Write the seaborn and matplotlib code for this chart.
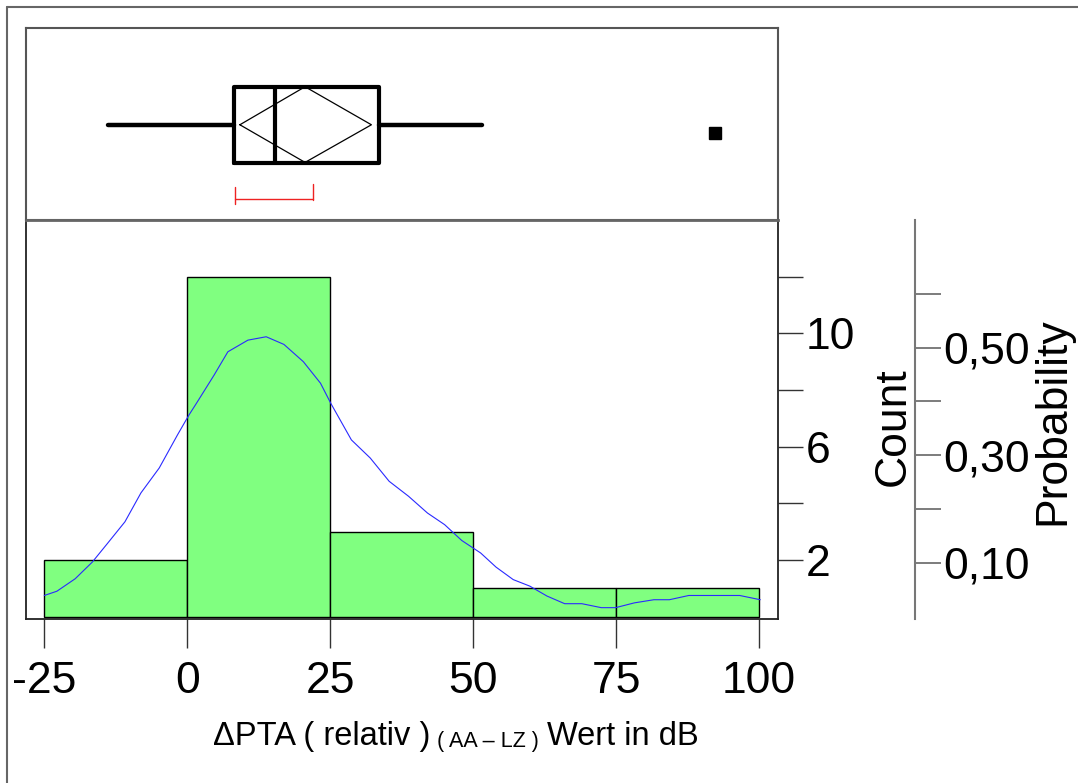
import numpy as np
import pandas as pd
import matplotlib
matplotlib.use('Agg')
import matplotlib.pyplot as plt
import seaborn as sns
from matplotlib.lines import Line2D
from matplotlib.ticker import FixedLocator

# ---------------- data ----------------
bin_edges = [-25, 0, 25, 50, 75, 100]
bin_counts = [2, 12, 3, 1, 1]

curve_x = [-25.0, -22.8, -19.6, -16.6, -14.1, -10.9, -8.1, -4.9, -1.7, 0.3, 1.6, 4.7,
           7.1, 10.6, 13.8, 16.9, 20.3, 23.3, 25.1, 28.7, 32.0, 35.3, 38.7, 42.0,
           45.0, 48.0, 51.3, 54.0, 57.0, 59.9, 62.9, 66.0, 69.0, 72.4, 74.9, 78.2,
           81.6, 84.3, 87.7, 96.6, 100.2]
curve_y = [0.75, 0.90, 1.34, 1.93, 2.55, 3.35, 4.37, 5.25, 6.42, 7.12, 7.53, 8.53,
           9.35, 9.76, 9.88, 9.61, 9.00, 8.24, 7.53, 6.24, 5.60, 4.78, 4.25, 3.66,
           3.25, 2.69, 2.25, 1.75, 1.31, 1.08, 0.73, 0.46, 0.46, 0.32, 0.32, 0.49,
           0.60, 0.60, 0.75, 0.75, 0.60]

# box plot summary
whisker_lo, q1, median, q3, whisker_hi = -13.8, 8.1, 15.4, 33.6, 51.6
mean_val, mean_ci_lo, mean_ci_hi = 20.6, 9.2, 32.2
outliers = [92.3]
shortest_half = [8.4, 21.9]

x_ticks = [-25, 0, 25, 50, 75, 100]
count_ticks = [2, 6, 10]
count_minor = [4, 8, 12]
prob_ticks = [0.10, 0.30, 0.50]
prob_minor = [0.20, 0.40, 0.60]
n_total = sum(bin_counts)

xlabel_main = "\u0394PTA ( relativ )"
xlabel_sub = "( AA \u2013 LZ )"
xlabel_end = "Wert in dB"

# ---------------- style ----------------
sns.set_theme(style='white')
plt.rcParams['font.family'] = ['Liberation Sans', 'DejaVu Sans']
plt.rcParams['text.color'] = 'black'
plt.rcParams['xtick.labelcolor'] = 'black'
plt.rcParams['ytick.labelcolor'] = 'black'

W, H = 1078, 783
fig = plt.figure(figsize=(W / 100, H / 100), dpi=100)
fig.patch.set_facecolor('white')


def rect(x0, y0, x1, y1):
    return [x0 / W, 1 - y1 / H, (x1 - x0) / W, (y1 - y0) / H]


ax_box = fig.add_axes(rect(26, 28, 778, 220))
ax_h = fig.add_axes(rect(26, 220, 778, 619))
ax_p = fig.add_axes(rect(880, 220, 915, 619))

XLIM = (-28.2, 103.3)
YLIM = (-0.08, 14.0)

# ---------------- histogram ----------------
centers = [(bin_edges[i] + bin_edges[i + 1]) / 2 for i in range(len(bin_counts))]
sns.histplot(x=centers, weights=bin_counts, bins=bin_edges, ax=ax_h,
             color='#80ff80', edgecolor='black', linewidth=1.0, alpha=1.0)
sns.lineplot(x=curve_x, y=curve_y, ax=ax_h, color='#2a2aff', linewidth=0.8)

ax_h.set_xlim(*XLIM)
ax_h.set_ylim(*YLIM)
ax_h.set_facecolor('none')
ax_h.set_xlabel('')
ax_h.set_ylabel('')
ax_h.set_xticks(x_ticks)
ax_h.set_xticklabels([str(t) for t in x_ticks], fontsize=32, color='black')
ax_h.tick_params(axis='x', direction='out', length=21, width=1, color='#333333',
                 pad=9, bottom=True, labelcolor='black')
ax_h.yaxis.tick_right()
ax_h.set_yticks(count_ticks)
ax_h.set_yticklabels([str(t) for t in count_ticks], fontsize=32, color='black')
ax_h.yaxis.set_minor_locator(FixedLocator(count_minor))
ax_h.tick_params(axis='y', which='both', direction='out', length=18, width=1,
                 color='#333333', pad=2, right=True, left=False, labelcolor='black')
for s in ['left', 'bottom', 'right']:
    ax_h.spines[s].set_visible(True)
    ax_h.spines[s].set_color('#222222')
    ax_h.spines[s].set_linewidth(1.3)
ax_h.spines['top'].set_color('#666666')
ax_h.spines['top'].set_linewidth(2)

# ---------------- probability axis ----------------
ax_p.set_facecolor('none')
ax_p.set_ylim(YLIM[0] / n_total, YLIM[1] / n_total)
ax_p.set_xticks([])
for s in ['left', 'top', 'bottom']:
    ax_p.spines[s].set_visible(False)
ax_p.spines['right'].set_visible(True)
ax_p.spines['right'].set_color('#777777')
ax_p.spines['right'].set_linewidth(1.5)
ax_p.yaxis.tick_right()
ax_p.set_yticks(prob_ticks)
ax_p.set_yticklabels([f"{t:.2f}".replace('.', ',') for t in prob_ticks], fontsize=32,
                     color='black')
ax_p.yaxis.set_minor_locator(FixedLocator(prob_minor))
ax_p.tick_params(axis='y', which='both', direction='out', length=19, width=1.2,
                 color='#666666', pad=1, right=True, left=False, labelcolor='black')

# ---------------- box plot panel ----------------
ax_box.set_xlim(*XLIM)
ax_box.set_ylim(0, 1)
ax_box.set_xticks([])
ax_box.set_yticks([])
ax_box.set_facecolor('white')
for s in ax_box.spines.values():
    s.set_visible(True)
    s.set_color('#555555')
    s.set_linewidth(1.5)

stats = [{'whislo': whisker_lo, 'q1': q1, 'med': median, 'q3': q3,
          'whishi': whisker_hi, 'fliers': []}]
bx_kw = dict(positions=[0.496], widths=[0.394], showfliers=False, showcaps=False,
             boxprops=dict(color='black', linewidth=3),
             whiskerprops=dict(color='black', linewidth=3.2),
             medianprops=dict(color='black', linewidth=3))
try:
    ax_box.bxp(stats, orientation='horizontal', **bx_kw)
except TypeError:
    ax_box.bxp(stats, vert=False, **bx_kw)
ax_box.set_ylim(0, 1)
ax_box.set_yticks([])

cy, top, bot = 0.496, 0.694, 0.30
ax_box.plot([mean_ci_lo, mean_val, mean_ci_hi, mean_val, mean_ci_lo],
            [cy, top, cy, bot, cy], color='black', linewidth=0.9)
ax_box.plot(outliers, [0.455] * len(outliers), marker='s', linestyle='none',
            color='black', markersize=8)

ax_box.plot(shortest_half, [0.11, 0.11], color='#ee2222', linewidth=1)
ax_box.plot([shortest_half[0]] * 2, [0.085, 0.17], color='#ee2222', linewidth=1)
ax_box.plot([shortest_half[1]] * 2, [0.105, 0.19], color='#ee2222', linewidth=1)
ax_box.set_xlim(*XLIM)

# ---------------- labels ----------------
fig.text(893 / W, 1 - 427 / H, 'Count', rotation=90, ha='center', va='center',
         fontsize=32, color='black')
fig.text(1053 / W, 1 - 421 / H, 'Probability', rotation=90, ha='center', va='center',
         fontsize=32, color='black')
fig.text(213 / W, 1 - 745 / H, xlabel_main, ha='left', va='baseline', fontsize=23.5,
         color='black')
fig.text(437 / W, 1 - 747 / H, xlabel_sub, ha='left', va='baseline', fontsize=15.5,
         color='black')
fig.text(547 / W, 1 - 745 / H, xlabel_end, ha='left', va='baseline', fontsize=23.5,
         color='black')

# figure border lines
fig.add_artist(Line2D([7 / W, 7 / W], [0, 1 - 7 / H], color='#666666', linewidth=1.5))
fig.add_artist(Line2D([7 / W, 1], [1 - 7 / H, 1 - 7 / H], color='#666666', linewidth=1.5))

fig.savefig('out.png', dpi=100, facecolor='white')
